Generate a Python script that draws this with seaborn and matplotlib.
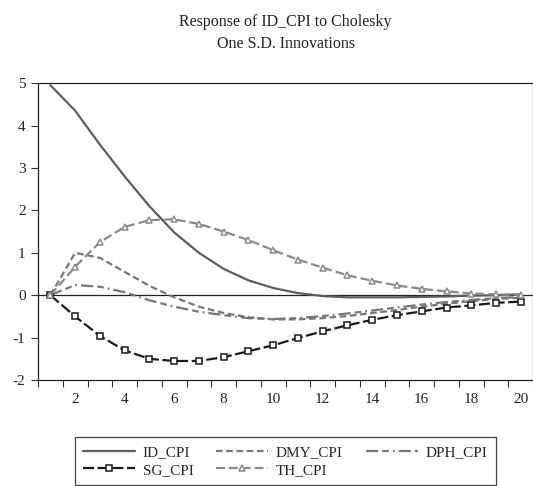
import numpy as np
import pandas as pd
import matplotlib
matplotlib.use("Agg")
import matplotlib.pyplot as plt
import seaborn as sns

# --------------------------------------------
# data
# --------------------------------------------
periods = list(range(1, 21))

id_cpi = [4.95, 4.35, 3.55, 2.8, 2.1, 1.48, 1.0, 0.62, 0.35, 0.17,
          0.05, -0.02, -0.05, -0.05, -0.05, -0.04, -0.03, -0.01, 0.0, 0.02]
dmy_cpi = [0.0, 1.0, 0.88, 0.55, 0.22, -0.05, -0.27, -0.42, -0.52, -0.57,
           -0.57, -0.54, -0.49, -0.42, -0.35, -0.27, -0.2, -0.14, -0.09, -0.06]
dph_cpi = [0.0, 0.24, 0.2, 0.07, -0.12, -0.27, -0.39, -0.47, -0.54, -0.56,
           -0.54, -0.49, -0.43, -0.36, -0.29, -0.22, -0.16, -0.11, -0.07, -0.04]
sg_cpi = [0.0, -0.5, -0.96, -1.3, -1.5, -1.55, -1.55, -1.46, -1.32, -1.18,
          -1.01, -0.85, -0.71, -0.58, -0.47, -0.38, -0.29, -0.24, -0.18, -0.15]
th_cpi = [0.0, 0.67, 1.25, 1.61, 1.77, 1.79, 1.68, 1.5, 1.3, 1.06,
          0.84, 0.65, 0.47, 0.34, 0.23, 0.15, 0.09, 0.04, 0.02, 0.01]

title_text = "Response of ID_CPI to Cholesky\nOne S.D. Innovations"

df = pd.DataFrame({
    "period": periods,
    "ID_CPI": id_cpi,
    "DMY_CPI": dmy_cpi,
    "DPH_CPI": dph_cpi,
    "SG_CPI": sg_cpi,
    "TH_CPI": th_cpi,
})

# --------------------------------------------
# style
# --------------------------------------------
sns.set_style("ticks")
plt.rcParams["font.family"] = ["Liberation Serif", "DejaVu Serif"]
plt.rcParams["font.size"] = 10.5
plt.rcParams["axes.unicode_minus"] = False

fig = plt.figure(figsize=(5.33, 4.86), dpi=100)
ax = fig.add_axes([0.0713, 0.218, 0.929, 0.611])

styles = {
    "ID_CPI":  dict(color="#5e5e5e", lw=1.6, dashes=(None, None), marker=None),
    "DMY_CPI": dict(color="#777777", lw=1.6, dashes=(3.0, 1.6), marker=None),
    "DPH_CPI": dict(color="#777777", lw=1.6, dashes=(5.5, 1.8, 3.0, 1.8, 0.8, 1.8), marker=None),
    "SG_CPI":  dict(color="#1a1a1a", lw=1.6, dashes=(5.0, 1.6), marker="s"),
    "TH_CPI":  dict(color="#8a8a8a", lw=1.6, dashes=(4.0, 1.8), marker="^"),
}

handles = {}
for name in ["ID_CPI", "DMY_CPI", "DPH_CPI", "SG_CPI", "TH_CPI"]:
    st = styles[name]
    kw = dict(color=st["color"], linewidth=st["lw"])
    if st["marker"]:
        kw.update(marker=st["marker"], markersize=5, markerfacecolor="white",
                  markeredgecolor=st["color"], markeredgewidth=1.1)
    sns.lineplot(data=df, x="period", y=name, ax=ax, label=name, **kw)
    line = ax.get_lines()[-1]
    if st["dashes"][0] is not None:
        line.set_dashes(st["dashes"])
    handles[name] = line

ax.axhline(0, color="#222222", lw=0.9, zorder=0)

# axes
ax.set_xlim(0.5, 20.5)
ax.set_ylim(-2, 5)
ax.set_yticks(range(-2, 6))
ax.set_xticks(range(2, 21, 2))
ax.set_xticks(np.arange(0.5, 21, 1.0), minor=True)
ax.tick_params(axis="x", which="major", length=0, pad=9)
ax.tick_params(axis="x", which="minor", length=5, width=0.8, color="#333333")
ax.tick_params(axis="y", length=5, width=0.8, color="#333333", pad=4)
ax.tick_params(labelsize=11, labelcolor="#222222")
ax.set_xlabel("")
ax.set_ylabel("")
for sp in ax.spines.values():
    sp.set_color("#222222")
    sp.set_linewidth(0.9)
    sp.set_visible(True)

ax.set_title(title_text, fontsize=11.5, color="#222222", pad=25, linespacing=1.55)

# legend: rows ID DMY DPH / SG TH
ax.get_legend().remove()
order = ["ID_CPI", "SG_CPI", "DMY_CPI", "TH_CPI", "DPH_CPI"]
leg = fig.legend([handles[n] for n in order], order, ncol=3,
                 loc="lower left", bbox_to_anchor=(0.14, 0.002, 0.79, 0.105),
                 mode="expand", borderaxespad=0, fancybox=False,
                 edgecolor="#444444", framealpha=1, handlelength=3.4,
                 handletextpad=0.5, columnspacing=0.9, labelspacing=0.25,
                 borderpad=0.55, fontsize=11)
leg.get_frame().set_linewidth(0.9)

fig.savefig("out.png", dpi=100)
